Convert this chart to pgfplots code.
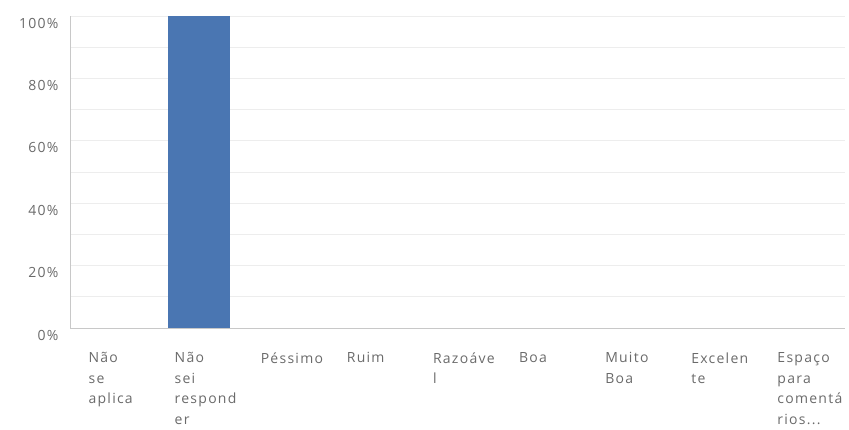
\documentclass[border=0pt]{standalone}
\usepackage{pgfplots}
\pgfplotsset{compat=1.18}
\usepackage{fontspec}
\setmainfont[LetterSpace=9]{Open Sans}
\definecolor{txt}{HTML}{6A6A6A}
\definecolor{barc}{HTML}{4A76B2}
\definecolor{gridc}{HTML}{EDEDED}
\definecolor{axc}{HTML}{C8C8C8}
\begin{document}
\begin{tikzpicture}
\path[use as bounding box] (0,0) rectangle (849pt,430pt);
\begin{axis}[
  at={(70pt,102pt)}, anchor=south west,
  scale only axis, width=775pt, height=312pt,
  xmin=-0.5, xmax=8.5, ymin=0, ymax=100,
  axis x line*=bottom, axis y line*=left,
  axis line style={axc, line width=0.8pt},
  xtick={0,1,2,3,4,5,6,7,8}, ytick={0,20,40,60,80,100}, minor ytick={10,30,50,70,90},
  major tick length=0pt, minor tick length=0pt,
  ymajorgrids, yminorgrids,
  major grid style={gridc, line width=0.8pt},
  minor grid style={gridc, line width=0.8pt},
  /pgf/number format/assume math mode=true,
  yticklabel={\pgfmathprintnumber{\tick}\%},
  yticklabel style={font=\fontsize{14}{16}\selectfont, text=txt, xshift=-8pt, yshift=-7pt},
  xticklabels={{Não\\se\\aplica},{Não\\sei\\respond\\er},{Péssimo},{Ruim},{Razoáve\\l},{Boa},{Muito\\Boa},{Excelen\\te},{Espaço\\para\\comentá\\rios{.}{.}{.}}},
  xticklabel style={font=\fontsize{14}{20.5}\selectfont, text=txt, align=left, anchor=north west, xshift=-28pt, yshift=-21pt},
  restrict y to domain=0.5:100,
]
\addplot[ybar, bar width=0.72, fill=barc, draw=none] coordinates {(0,0) (1,100) (2,0) (3,0) (4,0) (5,0) (6,0) (7,0) (8,0)};
\end{axis}
\end{tikzpicture}
\end{document}
